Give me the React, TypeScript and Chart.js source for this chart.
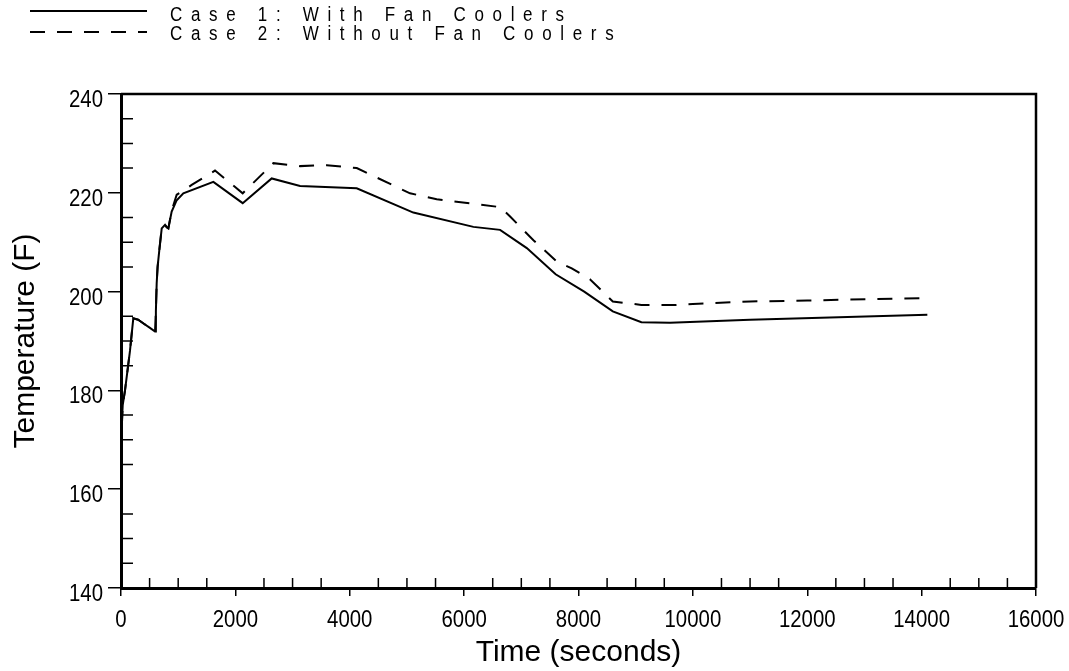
import React, { useEffect, useRef } from "react";
import { Chart, registerables } from "chart.js";

Chart.register(...registerables);

// ---- data ----
const seriesLabels = ["Case 1: With Fan Coolers", "Case 2: Without Fan Coolers"];

const case1Time = [0, 5, 12, 30, 70, 157, 215, 300, 400, 500, 595, 610, 624, 640, 670, 712, 770, 800, 828, 886, 974, 1090, 1615, 2128, 2635, 3131, 4122, 5112, 6162, 6629, 7096, 7600, 8100, 8600, 9100, 9600, 11000, 14100];
const case1Temp = [140, 155, 172, 177, 180, 188, 194.6, 194.3, 193.5, 192.7, 191.9, 196, 201.7, 205, 208.4, 212.8, 213.5, 213, 212.8, 216.2, 218.5, 219.9, 222.2, 217.9, 222.9, 221.4, 220.9, 216.0, 213.1, 212.5, 208.8, 203.5, 200.0, 196.0, 193.8, 193.7, 194.3, 195.3];

const case2Time = [0, 5, 12, 30, 70, 157, 215, 300, 400, 500, 595, 610, 624, 640, 670, 712, 770, 800, 828, 886, 974, 1061, 1236, 1644, 2128, 2664, 3131, 3598, 4122, 5054, 5521, 6629, 6804, 7212, 7620, 7882, 8200, 8600, 9100, 9700, 10000, 11000, 12000, 14100];
const case2Temp = [140, 155, 172, 177, 180, 188, 194.6, 194.3, 193.5, 192.7, 191.9, 196, 201.7, 205, 208.4, 212.8, 213.5, 213, 212.8, 216.4, 219.6, 220.2, 221.6, 224.5, 219.9, 226.0, 225.4, 225.6, 225.0, 219.9, 218.7, 217.1, 215.2, 210.4, 206.1, 204.7, 202.5, 198.0, 197.3, 197.3, 197.5, 198.0, 198.2, 198.7];

const xMin = 0;
const xMax = 16000;
const xMajorStep = 2000;
const xMinorStep = 500;
const yMin = 140;
const yMax = 240;
const yMajorStep = 20;
const yMinorStep = 5;

const baseFont = "'Liberation Sans', Arial, sans-serif";
const narrowScale = 0.85;

const minorTicksPlugin = {
  id: "minorTicks",
  afterDraw(chart: any) {
    const { ctx, chartArea, scales } = chart;
    const xs = scales.x;
    const ys = scales.y;
    ctx.save();
    ctx.strokeStyle = "#000";
    ctx.lineWidth = 1.5;
    ctx.beginPath();
    for (let v = yMin + yMinorStep; v < yMax; v += yMinorStep) {
      if (v % yMajorStep === 0) continue;
      const py = ys.getPixelForValue(v);
      ctx.moveTo(chartArea.left, py);
      ctx.lineTo(chartArea.left + 12, py);
    }
    for (let v = xMin + xMinorStep; v < xMax; v += xMinorStep) {
      if (v % xMajorStep === 0) continue;
      const px = xs.getPixelForValue(v);
      ctx.moveTo(px, chartArea.bottom);
      ctx.lineTo(px, chartArea.bottom - 10);
    }
    ctx.stroke();
    // frame: top and right
    ctx.lineWidth = 2.5;
    ctx.beginPath();
    ctx.moveTo(chartArea.left, chartArea.top);
    ctx.lineTo(chartArea.right, chartArea.top);
    ctx.lineTo(chartArea.right, chartArea.bottom);
    ctx.stroke();
    ctx.restore();
  },
};

// tick labels drawn from the scales' own ticks, in a condensed face
const tickLabelPlugin = {
  id: "tickLabels",
  afterDraw(chart: any) {
    const { ctx, chartArea, scales } = chart;
    ctx.save();
    ctx.fillStyle = "#000";
    ctx.font = `24px ${baseFont}`;
    ctx.textBaseline = "alphabetic";
    ctx.textAlign = "right";
    for (const t of scales.y.ticks) {
      const py = scales.y.getPixelForValue(t.value);
      ctx.save();
      ctx.translate(chartArea.left - 18, py + 13);
      ctx.scale(narrowScale, 1);
      ctx.fillText(String(t.value), 0, 0);
      ctx.restore();
    }
    ctx.textAlign = "center";
    for (const t of scales.x.ticks) {
      const px = scales.x.getPixelForValue(t.value);
      ctx.save();
      ctx.translate(px, chartArea.bottom + 38.6);
      ctx.scale(narrowScale, 1);
      ctx.fillText(String(t.value), 0, 0);
      ctx.restore();
    }
    ctx.restore();
  },
};

const legendPlugin = {
  id: "customLegend",
  afterDraw(chart: any) {
    const { ctx } = chart;
    const rows = [
      { y: 11, base: 21, ds: chart.data.datasets[0] },
      { y: 32, base: 39.5, ds: chart.data.datasets[1] },
    ];
    ctx.save();
    for (const r of rows) {
      ctx.strokeStyle = "#000";
      ctx.lineWidth = 2;
      ctx.setLineDash(r.ds.borderDash || []);
      ctx.beginPath();
      ctx.moveTo(30, r.y);
      ctx.lineTo(147, r.y);
      ctx.stroke();
      ctx.setLineDash([]);
      ctx.fillStyle = "#000";
      ctx.font = `20px ${baseFont}`;
      ctx.textBaseline = "alphabetic";
      ctx.textAlign = "left";
      (ctx as any).letterSpacing = "10.2px";
      ctx.save();
      ctx.translate(170, r.base);
      ctx.scale(narrowScale, 1);
      ctx.fillText(r.ds.label, 0, 0);
      ctx.restore();
      (ctx as any).letterSpacing = "0px";
    }
    ctx.restore();
  },
};

export default function App() {
  const canvasRef = useRef<HTMLCanvasElement | null>(null);

  useEffect(() => {
    if (!canvasRef.current) return;
    const chart = new Chart(canvasRef.current, {
      type: "line",
      data: {
        datasets: [
          {
            label: seriesLabels[0],
            data: case1Time.map((t, i) => ({ x: t, y: case1Temp[i] })),
            borderColor: "#000",
            borderWidth: 2,
            pointRadius: 0,
            tension: 0,
            fill: false,
          },
          {
            label: seriesLabels[1],
            data: case2Time.map((t, i) => ({ x: t, y: case2Temp[i] })),
            borderColor: "#000",
            borderWidth: 2,
            borderDash: [15, 12],
            pointRadius: 0,
            tension: 0,
            fill: false,
          },
        ],
      },
      options: {
        animation: false,
        responsive: true,
        maintainAspectRatio: false,
        layout: { padding: { top: 94, right: 33, left: 0, bottom: 0 } },
        plugins: {
          legend: { display: false },
          tooltip: { enabled: false },
        },
        scales: {
          x: {
            type: "linear",
            min: xMin,
            max: xMax,
            afterFit: (scale: any) => {
              scale.height = 83;
            },
            ticks: {
              stepSize: xMajorStep,
              autoSkip: false,
              maxRotation: 0,
              display: false,
            },
            grid: {
              drawOnChartArea: false,
              drawTicks: true,
              tickLength: 8,
              color: "#000",
              lineWidth: 1.5,
            },
            border: { color: "#000", width: 3 },
            title: {
              display: true,
              text: "Time (seconds)",
              color: "#000",
              font: { family: baseFont, size: 30 },
              padding: { top: 0, bottom: 0 },
            },
          },
          y: {
            type: "linear",
            min: yMin,
            max: yMax,
            afterFit: (scale: any) => {
              scale.width = 121;
            },
            ticks: {
              stepSize: yMajorStep,
              display: false,
            },
            grid: {
              drawOnChartArea: false,
              drawTicks: true,
              tickLength: 13,
              color: "#000",
              lineWidth: 1.5,
            },
            border: { color: "#000", width: 3 },
            title: {
              display: true,
              text: "Temperature (F)",
              color: "#000",
              font: { family: baseFont, size: 30 },
              padding: { top: 8, bottom: 0 },
            },
          },
        },
      },
      plugins: [minorTicksPlugin, tickLabelPlugin, legendPlugin],
    } as any);
    return () => chart.destroy();
  }, []);

  return (
    <div style={{ position: "fixed", left: 0, top: 0, width: 1069, height: 671, background: "#fff" }}>
      <canvas ref={canvasRef} />
    </div>
  );
}
